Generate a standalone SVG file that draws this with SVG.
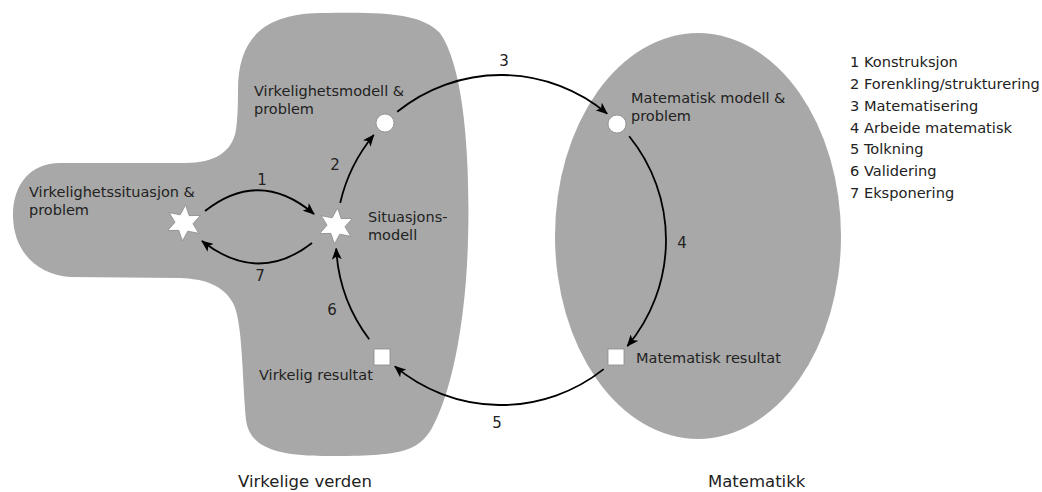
<svg xmlns="http://www.w3.org/2000/svg" xmlns:xlink="http://www.w3.org/1999/xlink" width="1042" height="492" viewBox="0 0 1042 492">
<style>
  text { font-family: "DejaVu Sans", Verdana, sans-serif; fill: #222; }
  .lbl { font-size: 14.5px; }
  .num { font-size: 15px; text-anchor: middle; }
  .big { font-size: 16.5px; }
  .leg { font-size: 14.6px; }
  .region { fill: #a8a8a8; stroke: none; }
  .conn { fill: none; stroke: #000; stroke-width: 1.8; marker-end: url(#ah); }
  .node { fill: #fff; stroke: #8a8a8a; stroke-width: 0.8; }
</style>
<defs>
  <marker id="ah" viewBox="0 0 12 10" refX="11" refY="5" markerWidth="12" markerHeight="10" orient="auto" markerUnits="userSpaceOnUse">
    <path d="M0,0 L12,5 L0,10 L3,5 z" fill="#000"/>
  </marker>
  <polygon id="star" points="1.57,-17.93 5.16,-7.37 16.31,-7.61 8.97,0.78 14.75,10.32 3.8,8.16 -1.57,17.93 -5.16,7.37 -16.31,7.61 -8.97,-0.78 -14.75,-10.32 -3.8,-8.16"/>
</defs>
<rect width="1042" height="492" fill="#fff"/>
<g id="regions">
  <path id="real-world" class="region" d="M 238,90 C 238,40 262,14 320,13 C 380,12 420,12 440,33 C 466,70 470,170 468,240 C 466,320 452,392 432,428 C 418,452 400,456 330,456 C 282,456 250,450 246,420 C 242,380 243,322 233,303 C 223,285 205,279 180,278 L 70,277 C 38,275 13,252 13,215 C 13,185 30,163 60,163 L 185,163 C 215,163 232,152 236,130 C 238,115 238,100 238,90 Z"/>
  <ellipse id="mathematics" class="region" cx="698" cy="236" rx="143" ry="203"/>
</g>
<g id="connectors">
  <path id="c1" class="conn" d="M 205,211 Q 260,168 314,214"/>
  <path id="c7" class="conn" d="M 312,243 Q 258,285 202,241"/>
  <path id="c2" class="conn" d="M 340.2,202.9 A 165 165 0 0 1 373.7,135"/>
  <path id="c3" class="conn" d="M 397.2,111.8 A 165 165 0 0 1 607.1,113.6"/>
  <path id="c4" class="conn" d="M 629.2,136.2 A 165 165 0 0 1 627.4,346.1"/>
  <path id="c5" class="conn" d="M 603.7,369.1 A 165 165 0 0 1 394.9,366.4"/>
  <path id="c6" class="conn" d="M 369.2,339.3 A 165 165 0 0 1 336.2,248.6"/>
  <text class="num" x="262" y="185">1</text>
  <text class="num" x="335" y="170">2</text>
  <text class="num" x="504" y="66">3</text>
  <text class="num" x="682" y="248">4</text>
  <text class="num" x="497" y="428">5</text>
  <text class="num" x="332" y="315">6</text>
  <text class="num" x="260" y="281">7</text>
</g>
<g id="node-situation">
  <use xlink:href="#star" href="#star" class="node" transform="translate(184,223)"/>
  <text class="lbl" x="29" y="197">Virkelighetssituasjon &amp;</text>
  <text class="lbl" x="29" y="215">problem</text>
</g>
<g id="node-situation-model">
  <use xlink:href="#star" href="#star" class="node" transform="translate(336,226)"/>
  <text class="lbl" x="368" y="222">Situasjons-</text>
  <text class="lbl" x="368" y="240">modell</text>
</g>
<g id="node-real-model">
  <circle class="node" cx="385" cy="123" r="9"/>
  <text class="lbl" x="254" y="96">Virkelighetsmodell &amp;</text>
  <text class="lbl" x="254" y="114">problem</text>
</g>
<g id="node-math-model">
  <circle class="node" cx="617" cy="124" r="9"/>
  <text class="lbl" x="631" y="103">Matematisk modell &amp;</text>
  <text class="lbl" x="631" y="121">problem</text>
</g>
<g id="node-math-result">
  <rect class="node" x="608" y="349" width="16" height="16"/>
  <text class="lbl" x="636" y="363">Matematisk resultat</text>
</g>
<g id="node-real-result">
  <rect class="node" x="374" y="349" width="16" height="16"/>
  <text class="lbl" x="259" y="380">Virkelig resultat</text>
</g>
<g id="region-labels">
  <text class="big" x="238" y="487">Virkelige verden</text>
  <text class="big" x="708" y="487">Matematikk</text>
</g>
<g id="legend">
  <text class="leg" x="850" y="67">1 Konstruksjon</text>
  <text class="leg" x="850" y="89">2 Forenkling/strukturering</text>
  <text class="leg" x="850" y="111">3 Matematisering</text>
  <text class="leg" x="850" y="133">4 Arbeide matematisk</text>
  <text class="leg" x="850" y="154">5 Tolkning</text>
  <text class="leg" x="850" y="176">6 Validering</text>
  <text class="leg" x="850" y="198">7 Eksponering</text>
</g>
</svg>
